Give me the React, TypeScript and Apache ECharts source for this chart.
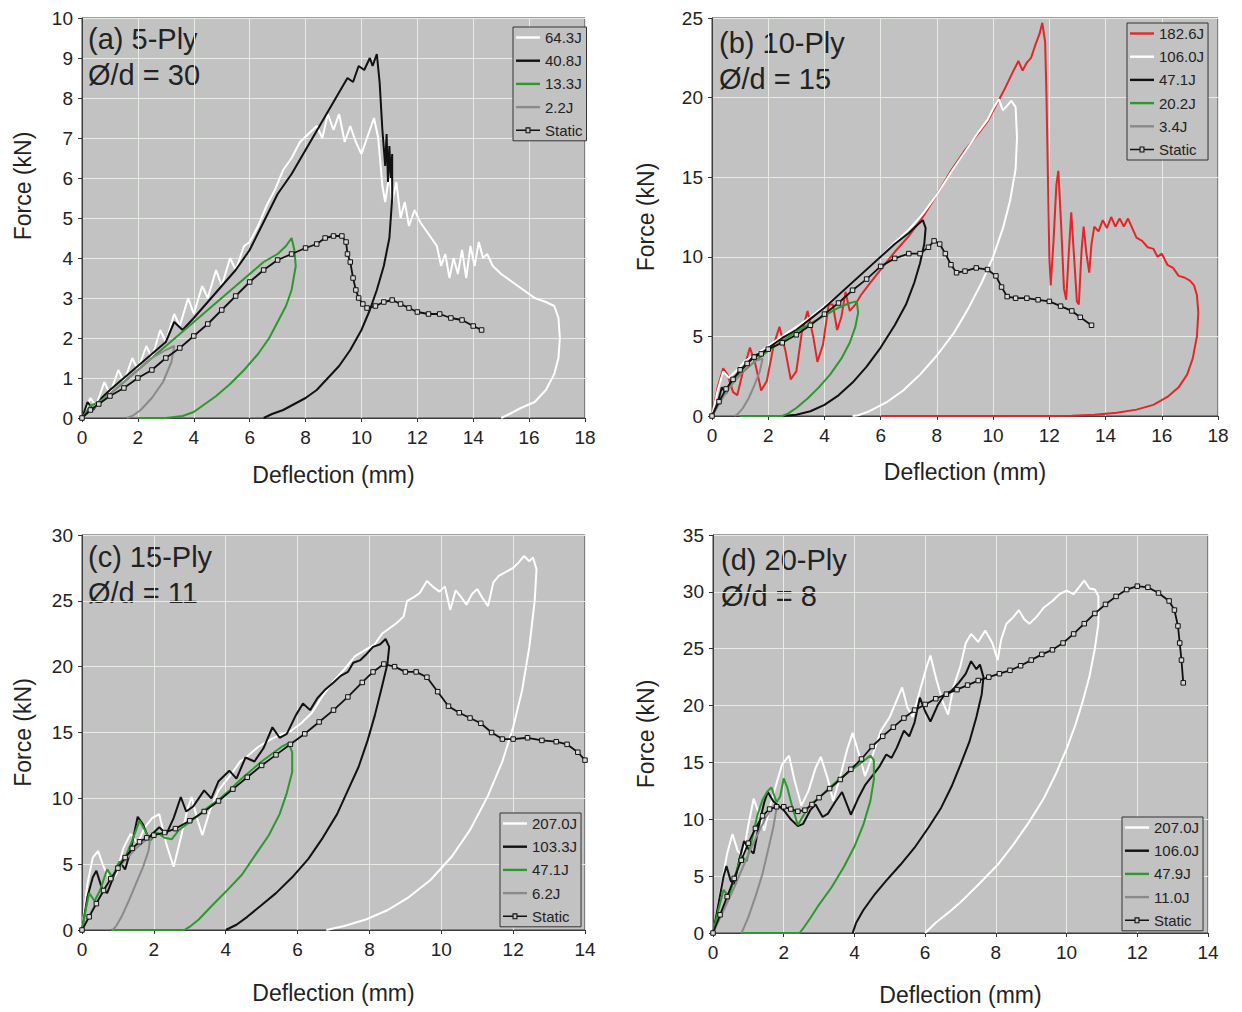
import React, { useEffect, useRef } from "react";
import * as echarts from "echarts";

// ---------------- DATA (Deflection mm, Force kN) ----------------
// (a) 5-Ply
const a_64_3J = [[0,0],[0.3,0.5],[0.5,0.3],[0.8,0.9],[1.0,0.6],[1.3,1.2],[1.5,0.9],[1.8,1.5],[2.0,1.2],[2.3,1.8],[2.5,1.5],[2.8,2.2],[3.0,1.9],[3.3,2.6],[3.5,2.3],[3.8,3.0],[4.0,2.6],[4.3,3.3],[4.5,3.0],[4.8,3.7],[5.0,3.3],[5.3,4.0],[5.5,3.7],[5.8,4.3],[6.0,4.4],[6.3,4.8],[6.6,5.3],[6.9,5.7],[7.2,6.2],[7.5,6.5],[7.8,6.9],[8.1,7.1],[8.4,7.3],[8.6,7.0],[8.8,7.6],[9.0,7.2],[9.2,7.6],[9.4,6.9],[9.6,7.3],[9.8,6.9],[10.0,6.6],[10.2,7.0],[10.45,7.5],[10.6,7.0],[10.75,5.8],[10.85,5.4],[11.0,6.1],[11.1,5.4],[11.25,5.9],[11.4,5.0],[11.55,5.4],[11.7,4.8],[11.9,5.2],[12.1,4.9],[12.3,4.7],[12.5,4.5],[12.7,4.3],[12.85,3.8],[13.0,4.1],[13.15,3.5],[13.3,4.0],[13.45,3.6],[13.6,4.2],[13.75,3.5],[13.9,4.3],[14.05,3.8],[14.2,4.4],[14.35,4.0],[14.5,4.1],[14.7,3.8],[15.0,3.6],[15.4,3.4],[15.8,3.2],[16.2,3.0],[16.6,2.9],[16.9,2.8],[17.05,2.5],[17.1,2.0],[17.05,1.5],[16.9,1.1],[16.6,0.7],[16.2,0.4],[15.7,0.25],[15.3,0.1],[15.0,0]];
const a_40_8J = [[0,0],[0.2,0.4],[0.4,0.2],[0.7,0.5],[1,0.7],[1.5,1.0],[2,1.3],[2.5,1.6],[3,1.9],[3.3,2.4],[3.6,2.2],[4,2.5],[4.5,2.9],[5,3.3],[5.5,3.7],[6,4.2],[6.5,4.9],[7,5.6],[7.5,6.1],[8,6.7],[8.5,7.3],[9,7.9],[9.5,8.5],[9.7,8.4],[9.9,8.8],[10.1,8.7],[10.3,9.0],[10.4,8.8],[10.55,9.1],[10.65,8.4],[10.75,7.2],[10.85,6.3],[10.9,7.1],[10.95,5.9],[11.0,6.8],[11.05,6.0],[11.1,6.6],[11.1,5.5],[11.0,4.5],[10.8,3.8],[10.55,3.2],[10.3,2.7],[10.0,2.2],[9.6,1.7],[9.2,1.3],[8.8,1.0],[8.4,0.7],[8.0,0.5],[7.6,0.35],[7.2,0.2],[6.8,0.1],[6.5,0]];
const a_13_3J = [[0,0],[0.3,0.3],[0.6,0.4],[1,0.6],[1.5,0.9],[2,1.2],[2.5,1.5],[3,1.8],[3.5,2.1],[4,2.4],[4.5,2.7],[5,3.0],[5.5,3.3],[6,3.6],[6.5,3.9],[7,4.1],[7.3,4.3],[7.5,4.5],[7.6,4.2],[7.65,3.8],[7.5,3.2],[7.3,2.8],[7.0,2.4],[6.7,2.0],[6.3,1.6],[5.8,1.2],[5.3,0.85],[4.8,0.55],[4.4,0.35],[4.0,0.15],[3.6,0.05],[3.0,0],[2.0,0]];
const a_2_2J = [[0,0],[0.5,0.3],[1,0.6],[1.5,0.9],[2,1.2],[2.5,1.5],[3,1.7],[3.3,1.8],[3.2,1.4],[2.9,0.9],[2.5,0.5],[2.1,0.2],[1.8,0.05],[1.6,0]];
const a_static = [[0,0],[0.3,0.2],[0.6,0.35],[1,0.55],[1.5,0.75],[2,1.0],[2.5,1.2],[3,1.5],[3.5,1.75],[4,2.05],[4.5,2.35],[5,2.7],[5.5,3.05],[6,3.4],[6.5,3.7],[7,3.95],[7.5,4.1],[8,4.25],[8.4,4.35],[8.7,4.5],[9,4.55],[9.3,4.55],[9.45,4.4],[9.5,4.1],[9.6,3.9],[9.7,3.5],[9.8,3.2],[9.9,3.0],[10.05,2.85],[10.2,2.75],[10.5,2.8],[10.8,2.9],[11.1,2.95],[11.4,2.85],[11.7,2.75],[12,2.65],[12.4,2.6],[12.8,2.6],[13.2,2.5],[13.6,2.45],[14,2.3],[14.3,2.2]];

// (b) 10-Ply
const b_182_6J = [[0,0],[0.2,1.8],[0.4,3.0],[0.55,2.6],[0.75,1.5],[0.9,1.3],[1.1,2.8],[1.35,4.3],[1.55,3.2],[1.75,1.6],[1.95,2.2],[2.2,4.5],[2.4,5.6],[2.6,4.2],[2.8,2.3],[3.0,2.8],[3.2,5.3],[3.4,6.6],[3.6,5.0],[3.75,3.4],[3.95,4.5],[4.15,7.0],[4.3,7.0],[4.45,5.4],[4.6,6.2],[4.75,7.8],[4.9,6.6],[5.1,7.0],[5.3,7.6],[5.6,8.3],[6,9.2],[6.5,10.3],[7,11.3],[7.5,12.5],[8,13.9],[8.5,15.4],[9,16.7],[9.5,17.8],[9.8,18.5],[10.1,19.5],[10.4,20.5],[10.7,21.6],[10.9,22.3],[11.05,21.7],[11.2,22.2],[11.35,22.5],[11.5,23.3],[11.65,24.0],[11.75,24.7],[11.85,23.5],[11.9,20],[11.95,15],[12.0,10],[12.05,8.2],[12.15,11],[12.25,14.5],[12.32,15.4],[12.42,12],[12.52,8],[12.6,7.3],[12.7,10.5],[12.78,12.8],[12.88,10],[12.98,7.2],[13.05,7.0],[13.15,10.5],[13.22,11.9],[13.32,10.2],[13.42,9.0],[13.5,10.8],[13.6,11.9],[13.75,11.6],[13.9,12.3],[14.05,11.8],[14.2,12.5],[14.35,11.9],[14.5,12.4],[14.65,11.9],[14.8,12.4],[14.95,11.8],[15.1,11.2],[15.3,11.0],[15.5,10.6],[15.7,10.5],[15.85,10.0],[16.0,10.2],[16.2,9.5],[16.4,9.3],[16.6,8.8],[16.8,8.7],[17.0,8.5],[17.15,8.2],[17.25,7.6],[17.3,6.5],[17.25,5.0],[17.1,3.6],[16.9,2.6],[16.6,1.8],[16.2,1.2],[15.7,0.7],[15.1,0.4],[14.4,0.2],[13.6,0.08],[12.8,0.02],[12,0],[6,0]];
const b_106_0J = [[0,0],[0.2,1.6],[0.4,2.8],[0.6,2.4],[0.9,2.9],[1.2,3.5],[1.6,3.9],[2,4.4],[2.5,5.0],[3,5.6],[3.5,6.2],[4,6.9],[4.5,7.6],[5,8.4],[5.5,9.2],[6,10.0],[6.5,10.9],[7,11.7],[7.5,12.7],[8,13.9],[8.5,15.3],[9,16.6],[9.5,17.9],[9.8,18.6],[10.0,19.3],[10.2,19.9],[10.35,19.2],[10.5,19.5],[10.65,19.8],[10.8,19.4],[10.85,17.5],[10.8,15.5],[10.6,13.5],[10.35,11.8],[10.0,10.0],[9.6,8.4],[9.1,6.7],[8.6,5.2],[8.0,3.8],[7.4,2.6],[6.8,1.6],[6.2,0.85],[5.6,0.3],[5.2,0.05],[5.0,0]];
const b_47_1J = [[0,0],[0.2,0.8],[0.35,1.8],[0.5,1.4],[0.7,2.3],[0.9,2.6],[1.2,3.2],[1.5,3.8],[1.8,4.0],[2.1,4.4],[2.5,4.9],[3,5.4],[3.5,6.1],[4,6.8],[4.5,7.6],[5,8.4],[5.5,9.2],[6,10.0],[6.5,10.8],[7,11.5],[7.3,12.0],[7.5,12.3],[7.6,11.8],[7.55,10.8],[7.4,9.6],[7.2,8.4],[6.9,7.0],[6.5,5.7],[6.0,4.3],[5.5,3.1],[5.0,2.1],[4.5,1.3],[4.0,0.7],[3.5,0.3],[3.0,0.08],[2.5,0]];
const b_20_2J = [[0,0],[0.3,1.0],[0.6,1.8],[1,2.6],[1.5,3.4],[2,4.1],[2.5,4.7],[3,5.3],[3.5,5.8],[4,6.3],[4.5,6.8],[4.9,7.1],[5.15,7.2],[5.2,6.5],[5.1,5.6],[4.9,4.6],[4.6,3.6],[4.2,2.6],[3.8,1.8],[3.4,1.1],[3.0,0.5],[2.7,0.15],[2.5,0],[1.0,0]];
const b_3_4J = [[0,0],[0.4,1.2],[0.8,2.2],[1.2,3.0],[1.6,3.5],[1.8,3.6],[1.7,2.8],[1.5,1.9],[1.3,1.1],[1.1,0.5],[0.9,0.1],[0.8,0]];
const b_static = [[0,0],[0.25,0.9],[0.5,1.7],[0.75,2.3],[1,2.9],[1.25,3.3],[1.5,3.7],[1.75,3.9],[2,4.2],[2.5,4.6],[3,5.1],[3.5,5.7],[4,6.4],[4.5,7.1],[5,7.9],[5.5,8.6],[6,9.4],[6.5,9.9],[7,10.2],[7.4,10.2],[7.7,10.6],[7.9,11.0],[8.1,10.8],[8.3,10.2],[8.5,9.5],[8.7,9.0],[9,9.1],[9.4,9.3],[9.8,9.2],[10.1,8.8],[10.3,8.1],[10.5,7.5],[10.8,7.4],[11.2,7.4],[11.6,7.3],[12,7.2],[12.4,6.9],[12.8,6.6],[13.1,6.2],[13.5,5.7]];

// (c) 15-Ply
const c_207_0J = [[0,0],[0.15,3.5],[0.3,5.5],[0.45,6.0],[0.6,4.8],[0.8,3.7],[0.95,4.2],[1.15,6.2],[1.35,7.3],[1.55,6.6],[1.75,7.8],[1.95,8.5],[2.15,8.8],[2.35,6.5],[2.55,4.8],[2.75,7.0],[2.95,9.3],[3.05,10.1],[3.2,8.5],[3.35,7.2],[3.55,9.0],[3.8,10.6],[4.0,11.3],[4.2,12.0],[4.4,12.8],[4.6,13.2],[4.9,13.9],[5.2,14.4],[5.5,14.8],[5.8,15.1],[6.1,15.7],[6.4,16.5],[6.7,17.8],[7.0,18.9],[7.3,19.8],[7.6,20.8],[7.9,21.3],[8.15,21.7],[8.35,22.5],[8.55,22.9],[8.75,23.3],[8.95,23.8],[9.05,25.0],[9.25,25.3],[9.4,25.6],[9.6,26.5],[9.8,26.0],[9.95,25.7],[10.1,26.1],[10.25,24.3],[10.4,25.8],[10.55,25.3],[10.7,24.7],[10.85,25.5],[11.0,25.9],[11.15,25.2],[11.3,24.6],[11.45,26.4],[11.6,26.9],[11.8,27.2],[12.0,27.5],[12.15,27.9],[12.3,28.4],[12.45,28.0],[12.55,28.3],[12.65,27.4],[12.6,25],[12.45,21.5],[12.25,18.2],[12.0,15.4],[11.7,12.8],[11.3,10.2],[10.8,7.6],[10.3,5.6],[9.7,3.8],[9.1,2.5],[8.5,1.5],[7.9,0.8],[7.3,0.3],[6.8,0]];
const c_103_3J = [[0,0],[0.15,2.5],[0.3,4.0],[0.4,4.5],[0.55,3.2],[0.7,2.8],[0.9,4.2],[1.05,5.2],[1.2,4.6],[1.35,6.0],[1.55,8.6],[1.7,8.0],[1.85,7.0],[2.0,7.4],[2.15,7.8],[2.35,7.3],[2.55,8.5],[2.75,10.1],[2.9,9.0],[3.1,9.4],[3.4,10.6],[3.6,10.0],[3.8,11.3],[4.1,12.1],[4.3,11.5],[4.55,13.1],[4.8,12.8],[5.05,13.8],[5.3,15.4],[5.5,14.6],[5.7,14.9],[5.95,16.3],[6.15,17.2],[6.35,16.7],[6.55,17.6],[6.75,18.2],[7.0,18.8],[7.2,19.3],[7.4,19.6],[7.55,20.3],[7.75,20.5],[7.9,20.9],[8.1,21.5],[8.3,21.7],[8.45,22.1],[8.55,21.5],[8.5,20.2],[8.35,18.5],[8.15,16.3],[7.95,14.4],[7.7,12.4],[7.4,10.6],[7.1,8.8],[6.7,7.0],[6.3,5.4],[5.85,4.0],[5.4,2.8],[5.0,1.9],[4.6,1.0],[4.3,0.4],[4.0,0]];
const c_47_1J = [[0,0],[0.1,1.5],[0.2,2.8],[0.35,2.2],[0.5,3.0],[0.7,4.6],[0.85,4.0],[1.0,5.0],[1.2,5.5],[1.4,6.8],[1.6,8.3],[1.75,7.6],[1.9,6.8],[2.1,7.4],[2.3,7.0],[2.5,6.9],[2.7,7.6],[2.9,8.0],[3.2,8.6],[3.5,9.3],[3.8,9.9],[4.1,10.6],[4.4,11.4],[4.7,12.1],[5.0,12.8],[5.3,13.4],[5.55,13.9],[5.75,14.2],[5.85,13.5],[5.85,12.0],[5.7,10.4],[5.5,8.8],[5.2,7.2],[4.85,5.8],[4.45,4.2],[4.0,2.9],[3.6,1.8],[3.25,0.8],[3.0,0.25],[2.85,0],[0.8,0]];
const c_6_2J = [[0,0],[0.3,1.6],[0.6,3.0],[0.9,4.3],[1.2,5.3],[1.5,6.2],[1.8,6.9],[1.9,7.0],[1.85,6.0],[1.7,4.8],[1.5,3.5],[1.3,2.2],[1.1,1.0],[0.95,0.3],[0.85,0]];
const c_static = [[0,0],[0.2,1.0],[0.4,2.0],[0.6,3.0],[0.8,3.9],[1.0,4.7],[1.2,5.5],[1.4,6.2],[1.6,6.7],[1.8,7.0],[2.0,7.2],[2.3,7.4],[2.6,7.7],[3.0,8.3],[3.4,9.0],[3.8,9.8],[4.2,10.7],[4.6,11.6],[5.0,12.5],[5.4,13.3],[5.8,14.1],[6.2,14.9],[6.6,15.8],[7.0,16.7],[7.4,17.7],[7.8,18.8],[8.1,19.6],[8.4,20.2],[8.7,20.0],[9.0,19.6],[9.3,19.6],[9.6,19.2],[9.9,18.1],[10.2,17.0],[10.5,16.5],[10.8,16.1],[11.1,15.7],[11.4,15.0],[11.7,14.5],[12.0,14.5],[12.4,14.6],[12.8,14.4],[13.2,14.3],[13.5,14.1],[13.8,13.5],[14.0,12.9]];

// (d) 20-Ply
const d_207_0J = [[0,0],[0.2,3.5],[0.4,7.0],[0.55,8.7],[0.7,7.2],[0.85,6.8],[1.0,9.5],[1.15,11.8],[1.3,10.5],[1.45,9.0],[1.6,11.0],[1.8,13.2],[1.95,14.8],[2.15,15.6],[2.3,13.5],[2.5,11.2],[2.7,12.5],[2.9,14.5],[3.05,15.5],[3.25,13.5],[3.4,11.6],[3.6,13.8],[3.8,16.2],[3.95,17.6],[4.15,15.5],[4.3,13.8],[4.5,15.5],[4.75,17.8],[5.0,19.0],[5.2,20.5],[5.35,21.6],[5.5,19.8],[5.65,19.0],[5.85,21.3],[6.05,23.5],[6.15,24.4],[6.3,22.5],[6.5,20.3],[6.65,19.2],[6.8,21.6],[7.0,23.5],[7.15,25.5],[7.3,26.3],[7.5,25.6],[7.7,26.6],[7.9,25.5],[8.05,24.0],[8.15,25.8],[8.3,27.2],[8.5,27.8],[8.65,28.4],[8.8,27.6],[8.95,27.2],[9.15,27.8],[9.35,28.6],[9.6,29.2],[9.8,29.8],[10.0,30.1],[10.2,29.8],[10.35,30.4],[10.5,31.0],[10.65,30.3],[10.8,30.2],[10.9,29.6],[10.9,27.2],[10.8,25.0],[10.65,22.6],[10.45,20.3],[10.25,18.3],[10.0,16.2],[9.7,14.0],[9.35,11.8],[8.95,9.8],[8.5,7.8],[8.05,6.0],[7.55,4.4],[7.1,3.0],[6.7,1.9],[6.3,0.9],[6.0,0]];
const d_106_0J = [[0,0],[0.15,2.5],[0.3,5.0],[0.38,5.9],[0.5,4.6],[0.6,4.3],[0.75,6.5],[0.88,8.1],[1.0,7.4],[1.15,7.0],[1.3,9.5],[1.45,11.5],[1.55,12.4],[1.7,11.6],[1.85,11.2],[2.0,10.8],[2.2,10.0],[2.4,9.4],[2.55,9.6],[2.75,10.8],[2.9,11.3],[3.1,10.2],[3.25,10.5],[3.45,11.5],[3.65,12.4],[3.8,11.2],[3.9,10.4],[4.1,11.8],[4.3,13.0],[4.5,13.8],[4.7,14.6],[4.9,15.7],[5.05,15.4],[5.2,16.3],[5.4,17.8],[5.55,17.3],[5.7,18.5],[5.85,20.7],[6.0,19.5],[6.15,18.6],[6.35,20.0],[6.55,21.0],[6.75,21.3],[6.95,22.0],[7.15,22.8],[7.3,23.9],[7.45,23.2],[7.55,23.6],[7.65,22.5],[7.6,21.0],[7.45,19.0],[7.25,16.8],[7.0,14.8],[6.75,12.9],[6.45,11.0],[6.1,9.3],[5.7,7.5],[5.3,6.0],[4.9,4.6],[4.55,3.3],[4.25,2.0],[4.05,0.9],[3.95,0]];
const d_47_9J = [[0,0],[0.15,2.0],[0.3,3.8],[0.45,3.2],[0.6,4.8],[0.8,6.8],[0.95,6.3],[1.1,8.2],[1.25,10.3],[1.4,11.7],[1.55,12.5],[1.65,12.8],[1.8,11.5],[1.9,12.0],[2.0,13.6],[2.1,12.8],[2.25,11.0],[2.4,9.5],[2.55,10.3],[2.75,11.3],[3.0,11.9],[3.3,12.8],[3.6,13.6],[3.9,14.3],[4.2,15.0],[4.45,15.6],[4.55,15.2],[4.55,13.5],[4.45,11.6],[4.25,9.5],[4.0,7.6],[3.7,5.8],[3.35,4.0],[3.0,2.5],[2.75,1.3],[2.55,0.4],[2.45,0],[0.8,0]];
const d_11_0J = [[0,0],[0.3,2.0],[0.6,4.0],[0.9,6.2],[1.2,8.3],[1.5,10.2],[1.75,11.3],[1.8,11.0],[1.7,9.2],[1.55,7.2],[1.4,5.2],[1.2,3.2],[1.0,1.4],[0.85,0.3],[0.8,0]];
const d_static = [[0,0],[0.2,1.6],[0.4,3.2],[0.6,4.8],[0.8,6.4],[1.0,7.9],[1.2,9.2],[1.4,10.3],[1.6,10.9],[1.8,11.1],[2.0,11.1],[2.2,10.9],[2.4,10.7],[2.6,10.8],[2.8,11.3],[3.0,11.9],[3.3,12.7],[3.6,13.5],[3.9,14.4],[4.2,15.3],[4.5,16.4],[4.8,17.3],[5.1,18.1],[5.4,18.9],[5.7,19.6],[6.0,20.1],[6.3,20.6],[6.6,21.0],[6.9,21.4],[7.2,21.8],[7.5,22.2],[7.8,22.5],[8.1,22.8],[8.4,23.1],[8.7,23.5],[9.0,24.0],[9.3,24.5],[9.6,24.9],[9.9,25.5],[10.2,26.3],[10.5,27.2],[10.8,28.1],[11.1,28.9],[11.4,29.6],[11.7,30.2],[12.0,30.5],[12.3,30.4],[12.6,29.9],[12.9,29.2],[13.05,28.4],[13.15,27.0],[13.2,25.5],[13.25,24.0],[13.3,22.0]];

const panelTitles = [["(a) 5-Ply", "Ø/d = 30"], ["(b) 10-Ply", "Ø/d = 15"], ["(c) 15-Ply", "Ø/d = 11"], ["(d) 20-Ply", "Ø/d = 8"]];
const xMaxes = [18, 18, 14, 14];
const yMaxes = [10, 25, 30, 35];
const yIntervals = [1, 5, 5, 5];
const xAxisTitle = "Deflection (mm)";
const yAxisTitle = "Force (kN)";

// ---------------- STYLE ----------------
const FONT = "'Liberation Sans', Arial, Helvetica, sans-serif";
const WHITE = "#ffffff";
const BLACK = "#111111";
const GREEN = "#2f972f";
const GRAY = "#8a8a8a";
const RED = "#e3262a";
const PLOT_BG = "#c2c2c2";
const LINE_ICON = "path://M0,0h24v2.4h-24z";
const STATIC_ICON = "path://M0,4.2h9.5v-2.2h5v2.2h9.5v1.6h-9.5v2.2h-5v-2.2h-9.5z M10.6,3.1v3.8h2.8v-3.8z";

const panels = [
  {
    grid: { left: 82, top: 18, width: 503, height: 400 },
    yNameGap: 48, xNameGap: 45, yNamePad: [0, 0, 0, 64],
    legend: { left: 513, top: 27 },
    titleXY: [88, 24, 60],
    series: [["64.3J", a_64_3J, WHITE], ["40.8J", a_40_8J, BLACK], ["13.3J", a_13_3J, GREEN], ["2.2J", a_2_2J, GRAY], ["Static", a_static, "static"]],
  },
  {
    grid: { left: 712, top: 18, width: 506, height: 398 },
    yNameGap: 55, xNameGap: 44, yNamePad: [0, 0, 0, 0],
    legend: { left: 1127, top: 23 },
    titleXY: [719, 28, 64],
    series: [["182.6J", b_182_6J, RED], ["106.0J", b_106_0J, WHITE], ["47.1J", b_47_1J, BLACK], ["20.2J", b_20_2J, GREEN], ["3.4J", b_3_4J, GRAY], ["Static", b_static, "static"]],
  },
  {
    grid: { left: 82, top: 535, width: 503, height: 395 },
    yNameGap: 48, xNameGap: 51, yNamePad: [0, 0, 0, 0],
    legend: { left: 500, top: 813 },
    titleXY: [88, 542, 578],
    series: [["207.0J", c_207_0J, WHITE], ["103.3J", c_103_3J, BLACK], ["47.1J", c_47_1J, GREEN], ["6.2J", c_6_2J, GRAY], ["Static", c_static, "static"]],
  },
  {
    grid: { left: 713, top: 535, width: 495, height: 398 },
    yNameGap: 56, xNameGap: 50, yNamePad: [0, 0, 0, 0],
    legend: { left: 1122, top: 817 },
    titleXY: [721, 545, 581],
    series: [["207.0J", d_207_0J, WHITE], ["106.0J", d_106_0J, BLACK], ["47.9J", d_47_9J, GREEN], ["11.0J", d_11_0J, GRAY], ["Static", d_static, "static"]],
  },
];

function buildOption() {
  const grid: any[] = [];
  const xAxis: any[] = [];
  const yAxis: any[] = [];
  const series: any[] = [];
  const legend: any[] = [];
  const graphic: any[] = [];

  panels.forEach((p, i) => {
    grid.push({ ...p.grid, show: true, backgroundColor: PLOT_BG, borderColor: "#3c3c3c", borderWidth: 1 });
    const axisCommon = {
      type: "value",
      gridIndex: i,
      min: 0,
      nameLocation: "middle",
      nameTextStyle: { fontFamily: FONT, fontSize: 23, color: "#222" },
      axisLine: { show: true, onZero: false, lineStyle: { color: "#3c3c3c", width: 1 } },
      axisTick: { show: true, inside: false, length: 4, lineStyle: { color: "#333" } },
      axisLabel: { fontFamily: FONT, fontSize: 19, color: "#222" },
      splitLine: { show: true, lineStyle: { color: "#e6ece4", width: 1 } },
    };
    xAxis.push({
      ...axisCommon,
      max: xMaxes[i],
      interval: 2,
      name: xAxisTitle,
      nameGap: p.xNameGap,
      axisLabel: { ...axisCommon.axisLabel, margin: 10 },
    });
    yAxis.push({
      ...axisCommon,
      max: yMaxes[i],
      interval: yIntervals[i],
      name: yAxisTitle,
      nameGap: p.yNameGap,
      nameTextStyle: { ...axisCommon.nameTextStyle, padding: p.yNamePad },
      axisLabel: { ...axisCommon.axisLabel, margin: 9 },
    });

    const legendData: any[] = [];
    p.series.forEach(([label, data, color]) => {
      const name = `${label}#${i}`;
      if (color === "static") {
        legendData.push({ name, icon: STATIC_ICON, itemStyle: { color: BLACK, borderWidth: 0 } });
        series.push({
          type: "line",
          name,
          xAxisIndex: i,
          yAxisIndex: i,
          data,
          symbol: "rect",
          symbolSize: 4.5,
          showSymbol: true,
          showAllSymbol: true,
          lineStyle: { color: BLACK, width: 1.8 },
          itemStyle: { color: "#d8d8d8", borderColor: BLACK, borderWidth: 1 },
          silent: true,
          z: 3,
        });
      } else {
        legendData.push({ name, icon: LINE_ICON, itemStyle: { color, borderWidth: 0 } });
        series.push({
          type: "line",
          name,
          xAxisIndex: i,
          yAxisIndex: i,
          data,
          symbol: "none",
          showSymbol: false,
          lineStyle: { color, width: 2 },
          itemStyle: { color },
          silent: true,
          z: 2,
        });
      }
    });

    legend.push({
      data: legendData,
      left: p.legend.left,
      top: p.legend.top,
      orient: "vertical",
      itemWidth: 24,
      itemHeight: 14,
      itemGap: 8.2,
      padding: [3, 4, 3, 3],
      backgroundColor: PLOT_BG,
      borderColor: "#333",
      borderWidth: 1,
      borderRadius: 0,
      selectedMode: false,
      formatter: (n: string) => n.split("#")[0],
      textStyle: { fontFamily: FONT, fontSize: 15, color: "#222" },
    });

    const [tx, ty1, ty2] = p.titleXY;
    graphic.push({
      type: "text",
      left: tx,
      top: ty1,
      style: { text: panelTitles[i][0], font: `29px ${FONT}`, fill: "#222" },
    });
    graphic.push({
      type: "text",
      left: tx,
      top: ty2,
      style: { text: panelTitles[i][1], font: `29px ${FONT}`, fill: "#222" },
    });
  });

  return {
    animation: false,
    backgroundColor: "#ffffff",
    textStyle: { fontFamily: FONT },
    grid,
    xAxis,
    yAxis,
    legend,
    graphic,
    series,
  };
}

export default function App() {
  const ref = useRef<HTMLDivElement>(null);
  useEffect(() => {
    if (!ref.current) return;
    const chart = echarts.init(ref.current, undefined, { renderer: "svg" });
    chart.setOption(buildOption() as any);
    return () => chart.dispose();
  }, []);
  return (
    <div
      ref={ref}
      style={{ position: "absolute", left: 0, top: 0, width: 1242, height: 1012, background: "#fff" }}
    />
  );
}
